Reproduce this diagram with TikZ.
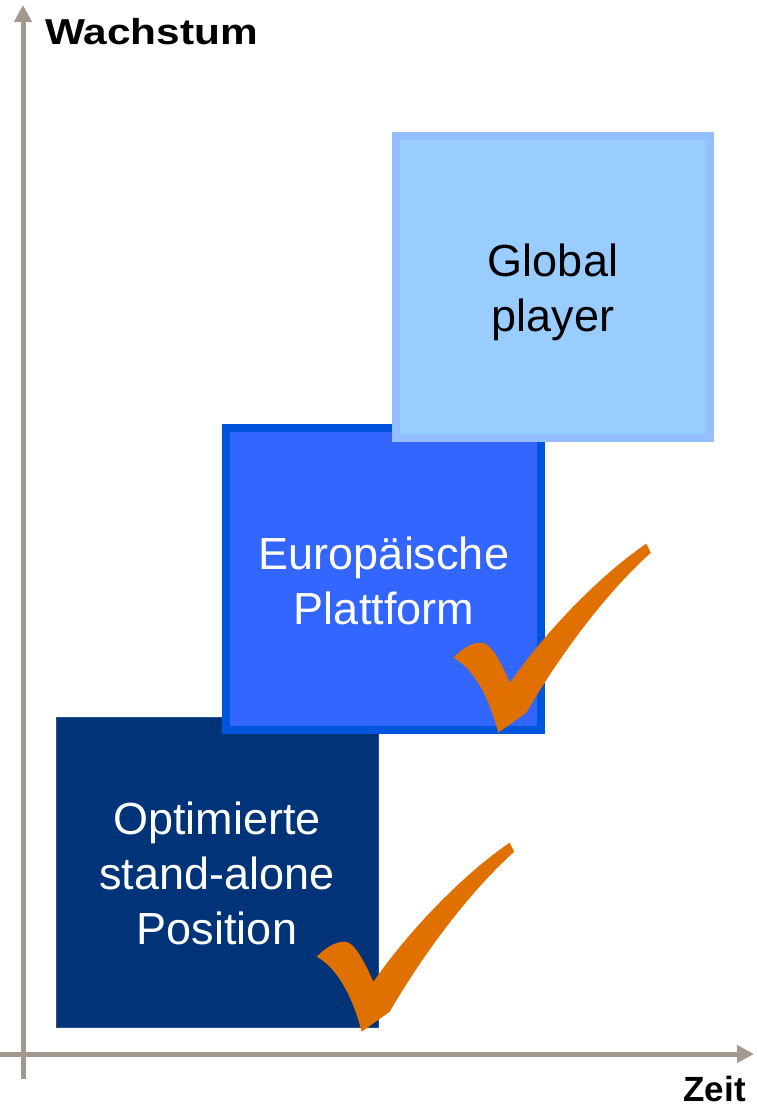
\documentclass[tikz,border=0pt]{standalone}
\usepackage{fontspec}
\setmainfont{Liberation Sans}
\usetikzlibrary{arrows.meta}
\definecolor{axisgray}{RGB}{162,152,142}
\definecolor{darkblue}{RGB}{0,51,119}
\definecolor{midblue}{RGB}{51,102,255}
\definecolor{midblueedge}{RGB}{0,85,221}
\definecolor{lightblue}{RGB}{153,204,255}
\definecolor{lightblueedge}{RGB}{147,190,255}
\definecolor{checkorange}{RGB}{224,112,0}
\tikzset{
  axisline/.style={draw=axisgray, line width=5pt, -{Triangle[length=17pt,width=17pt]}},
  axislabel/.style={font=\fontsize{35}{40}\selectfont\bfseries, text=black, inner sep=0pt},
  boxtext/.style={font=\fontsize{45}{55}\selectfont, align=center, inner sep=0pt},
  checkmark/.style={fill=checkorange, draw=none},
}
\begin{document}
\begin{tikzpicture}[x=1pt, y=-1pt]
\useasboundingbox (0,0) rectangle (756,1107);
% axes
\coordinate (ybot) at (23,1079);
\coordinate (ytop) at (23,5);
\coordinate (xleft) at (0,1054);
\coordinate (xright) at (754,1054);
\draw[axisline] (ybot) -- (ytop);
\draw[axisline] (xleft) -- (xright);
\node[axislabel, anchor=base west] (wachstum) at (45,45) {\scalebox{1.21}[1.03]{Wachstum}};
\node[axislabel, anchor=base east] (zeit) at (746,1101) {Zeit};
% boxes
\node[draw=darkblue!85!white, line width=1pt, fill=darkblue, minimum width=322pt, minimum height=310pt, inner sep=0pt] (opt) at (217.5,872.5) {};
\node[boxtext, text=white] (opttext) at (217,873) {Optimierte\\stand-alone\\Position};
\node[draw=midblueedge, line width=8pt, fill=midblue, minimum width=315pt, minimum height=302pt, inner sep=0pt] (euro) at (383.5,579) {};
\node[boxtext, text=white] (eurotext) at (384,581) {Europäische\\Plattform};
\node[draw=lightblueedge, line width=8pt, fill=lightblue, minimum width=314pt, minimum height=302pt, inner sep=0pt] (glob) at (553,287) {};
\node[boxtext, text=black] (globtext) at (553,292) {Global\\player};
% checkmarks
\foreach \ox/\oy in {316.7/956.7, 453.3/657.7}{
  \fill[checkmark, shift={(\ox pt,-\oy pt)}]
    (0,0) .. controls (9,-9) and (18,-15) .. (28,-15)
    .. controls (38,-15) and (48,6) .. (56.7,25)
    .. controls (95,-30) and (150,-85) .. (193,-114)
    -- (197.5,-105)
    .. controls (150,-62) and (105,0) .. (73,55)
    -- (45,75)
    .. controls (38,48) and (24,13) .. (0,0) -- cycle;
}
\end{tikzpicture}
\end{document}
